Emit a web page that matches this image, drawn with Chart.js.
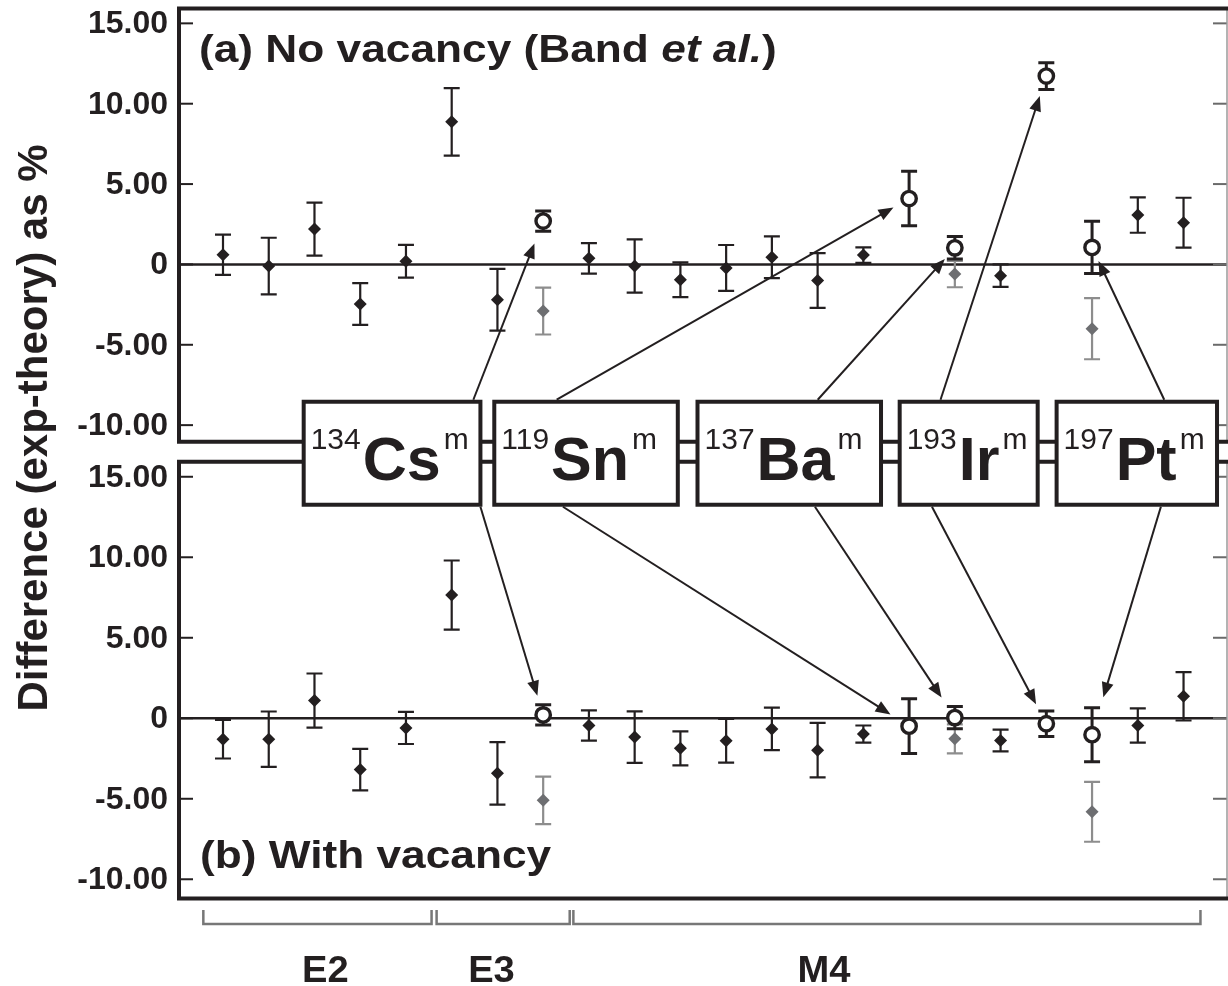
<!DOCTYPE html>
<html>
<head>
<meta charset="utf-8">
<title>Difference (exp-theory) as %</title>
<script src="https://cdn.jsdelivr.net/npm/chart.js@4.4.0/dist/chart.umd.min.js"></script>
<style>
  html, body { margin: 0; padding: 0; background: #fff; }
  #wrap { width: 1228px; height: 986px; }
</style>
</head>
<body>
<div id="wrap"><canvas id="chart" width="1228" height="986"></canvas></div>
<script>
// Transitions along the x axis (index 0..21), grouped by multipolarity
const groupNames = ['E2', 'E3', 'M4'];
const groupFirst = [0, 5, 8];
const groupLast = [4, 7, 21];

// Ordinary transitions (black diamonds)
const blackIndex = [0, 1, 2, 3, 4, 5, 6, 8, 9, 10, 11, 12, 13, 14, 17, 20, 21];
const noVac = [0.6, -0.1, 2.2, -2.46, 0.2, 8.87, -2.2, 0.38, -0.1, -0.95, -0.22, 0.45, -1.0, 0.58, -0.7, 3.07, 2.6];
const noVacErr = [1.25, 1.76, 1.65, 1.3, 1.02, 2.1, 1.92, 0.95, 1.66, 1.08, 1.43, 1.3, 1.7, 0.48, 0.7, 1.1, 1.55];
const withVac = [-1.3, -1.3, 1.1, -3.19, -0.6, 7.65, -3.42, -0.45, -1.17, -1.87, -1.4, -0.66, -1.98, -0.98, -1.38, -0.45, 1.36];
const withVacErr = [1.2, 1.72, 1.68, 1.29, 1.0, 2.15, 1.94, 0.94, 1.6, 1.06, 1.36, 1.32, 1.69, 0.53, 0.68, 1.06, 1.5];

// Isomers (open circles)
const isotopes = ['Cs', 'Sn', 'Ba', 'Ir', 'Pt'];
const massNumbers = ['134', '119', '137', '193', '197'];
const isomerIndex = [7, 15, 16, 18, 19];
const noVacIsomer = [2.7, 4.1, 1.03, 11.72, 1.06];
const noVacIsomerErr = [0.63, 1.7, 0.7, 0.83, 1.63];
const withVacIsomer = [0.21, -0.49, 0.04, -0.34, -1.02];
const withVacIsomerErr = [0.63, 1.7, 0.69, 0.79, 1.68];

// Grey diamonds
const greyIndex = [7, 16, 19];
const noVacGrey = [-2.9, -0.6, -4.0];
const noVacGreyErr = [1.46, 0.82, 1.9];
const withVacGrey = [-5.1, -1.28, -5.81];
const withVacGreyErr = [1.48, 0.9, 1.86];

// y axis ticks (same for both panels)
const yTicks = [-10, -5, 0, 5, 10, 15];
const yTickLabels = ['-10.00', '-5.00', '0', '5.00', '10.00', '15.00'];

// ---- layout (x in transition-index units, y in panel units) ----
const INK = '#231f20';
const GREY = '#6d6e71';
const GREY_BAR = '#8d8d8d';
const FONT = "'Liberation Sans', Arial, Helvetica, sans-serif";
const CAP = 8;
const panelA = { min: -11.03, max: 15.92 };
const panelB = { min: -11.2, max: 15.93 };
const boxLeft = [1.764, 5.931, 10.374, 14.794, 18.225];
const boxRight = [5.628, 9.943, 14.386, 17.811, 21.732];
const arrowFromA = [0.96, 0.34, 0.655, 0.296, 0.671];
const arrowStopA = [24, 18, 15, 21, 15];
const arrowFromB = [1.0, 0.374, 0.64, 0.234, 0.65];
const arrowStopB = [20, 22, 24, 22, 39];
const bracketFrom = [-0.43, 4.67, 7.66];
const bracketTo = [4.56, 7.58, 21.37];
const groupLabelAt = [2.24, 5.87, 13.14];

const pts = (idx, vals) => idx.map((x, i) => ({ x: x, y: vals[i] }));

function drawStretched(ctx, parts, x, y, sx) {
  let cx = x;
  parts.forEach(p => {
    ctx.font = p.font;
    ctx.save();
    ctx.translate(cx, y);
    ctx.scale(sx, 1);
    ctx.fillText(p.text, 0, 0);
    ctx.restore();
    cx += ctx.measureText(p.text).width * sx;
  });
}

function drawArrow(ctx, x1, y1, x2, y2, stop) {
  const dx = x2 - x1, dy = y2 - y1;
  const len = Math.hypot(dx, dy);
  const ux = dx / len, uy = dy / len;
  const tx = x2 - ux * stop, ty = y2 - uy * stop;
  const head = 15, half = 6;
  ctx.beginPath();
  ctx.moveTo(x1, y1);
  ctx.lineTo(tx - ux * head * 0.8, ty - uy * head * 0.8);
  ctx.stroke();
  ctx.beginPath();
  ctx.moveTo(tx, ty);
  ctx.lineTo(tx - ux * head - uy * half, ty - uy * head + ux * half);
  ctx.lineTo(tx - ux * head + uy * half, ty - uy * head - ux * half);
  ctx.closePath();
  ctx.fill();
}

function drawFrames(chart) {
  const ctx = chart.ctx, area = chart.chartArea;
  const L = area.left + 2, R = area.right - 1;
  [['ya', panelA], ['yb', panelB]].forEach(([id, p]) => {
    const ys = chart.scales[id];
    const top = ys.getPixelForValue(p.max), bot = ys.getPixelForValue(p.min);
    ctx.save();
    ctx.lineCap = 'butt';
    // zero line
    ctx.strokeStyle = INK;
    ctx.lineWidth = 2.5;
    const y0 = ys.getPixelForValue(0);
    ctx.beginPath(); ctx.moveTo(L, y0); ctx.lineTo(R, y0); ctx.stroke();
    // ticks and labels
    ctx.font = 'bold 32px ' + FONT;
    ctx.textAlign = 'right';
    ctx.textBaseline = 'middle';
    ctx.fillStyle = INK;
    yTicks.forEach((t, k) => {
      const y = ys.getPixelForValue(t);
      ctx.lineWidth = 2;
      ctx.strokeStyle = INK;
      ctx.beginPath(); ctx.moveTo(L, y); ctx.lineTo(L + 14, y); ctx.stroke();
      ctx.strokeStyle = '#6a6a6a';
      ctx.beginPath(); ctx.moveTo(R - 14, y); ctx.lineTo(R, y); ctx.stroke();
      ctx.fillText(yTickLabels[k], area.left - 9, y + 1);
    });
    // right border (thin) then top / left / bottom (thick)
    ctx.strokeStyle = '#9a9a9a';
    ctx.lineWidth = 1.5;
    ctx.beginPath(); ctx.moveTo(R, top); ctx.lineTo(R, bot); ctx.stroke();
    ctx.strokeStyle = INK;
    ctx.lineWidth = 4;
    ctx.lineJoin = 'miter';
    ctx.beginPath();
    ctx.moveTo(area.right, top); ctx.lineTo(L, top); ctx.lineTo(L, bot); ctx.lineTo(area.right, bot);
    ctx.stroke();
    ctx.restore();
  });
}

function drawErrorBars(chart) {
  const ctx = chart.ctx;
  chart.data.datasets.forEach((ds, di) => {
    const meta = chart.getDatasetMeta(di);
    const ys = chart.scales[ds.yAxisID];
    ctx.save();
    ctx.strokeStyle = ds.barColor;
    ctx.lineWidth = ds.barWidth;
    meta.data.forEach((pt, i) => {
      const v = ds.data[i].y, e = ds.err[i];
      const top = ys.getPixelForValue(v + e), bot = ys.getPixelForValue(v - e);
      ctx.beginPath();
      ctx.moveTo(pt.x, top); ctx.lineTo(pt.x, bot);
      ctx.moveTo(pt.x - CAP, top); ctx.lineTo(pt.x + CAP, top);
      ctx.moveTo(pt.x - CAP, bot); ctx.lineTo(pt.x + CAP, bot);
      ctx.stroke();
    });
    ctx.restore();
  });
}

function drawAnnotations(chart) {
  const ctx = chart.ctx, area = chart.chartArea;
  const xs = chart.scales.x, ya = chart.scales.ya, yb = chart.scales.yb;
  const gapMid = (ya.getPixelForValue(panelA.min) + yb.getPixelForValue(panelB.max)) / 2;
  const y1 = gapMid - 50, y2 = gapMid + 53;
  ctx.save();
  ctx.fillStyle = INK;
  ctx.strokeStyle = INK;

  // arrows from the isotope boxes to the isomer points
  ctx.lineWidth = 2;
  isotopes.forEach((el, k) => {
    const x1 = xs.getPixelForValue(boxLeft[k]), x2 = xs.getPixelForValue(boxRight[k]);
    const px = xs.getPixelForValue(isomerIndex[k]);
    drawArrow(ctx, x1 + arrowFromA[k] * (x2 - x1), y1 - 2, px, ya.getPixelForValue(noVacIsomer[k]), arrowStopA[k]);
    drawArrow(ctx, x1 + arrowFromB[k] * (x2 - x1), y2 + 2, px, yb.getPixelForValue(withVacIsomer[k]), arrowStopB[k]);
  });

  // isotope boxes
  isotopes.forEach((el, k) => {
    const x1 = xs.getPixelForValue(boxLeft[k]), x2 = xs.getPixelForValue(boxRight[k]);
    ctx.fillStyle = '#fff';
    ctx.fillRect(x1, y1, x2 - x1, y2 - y1);
    ctx.lineWidth = 4;
    ctx.strokeRect(x1, y1, x2 - x1, y2 - y1);
    ctx.fillStyle = INK;
    ctx.textAlign = 'left';
    ctx.textBaseline = 'alphabetic';
    let cx = x1 + 7;
    ctx.font = '30px ' + FONT;
    ctx.fillText(massNumbers[k], cx, y1 + 47.5);
    cx += ctx.measureText(massNumbers[k]).width + 2;
    ctx.font = 'bold 61px ' + FONT;
    ctx.fillText(el, cx, y1 + 78.5);
    cx += ctx.measureText(el).width + 3;
    ctx.font = '30px ' + FONT;
    ctx.fillText('m', cx, y1 + 47.5);
  });

  // panel captions
  ctx.fillStyle = INK;
  ctx.textAlign = 'left';
  ctx.textBaseline = 'alphabetic';
  const bold = 'bold 39.5px ' + FONT;
  const boldIt = 'italic bold 39.5px ' + FONT;
  drawStretched(ctx, [
    { text: '(a) No vacancy (Band ', font: bold },
    { text: 'et al.', font: boldIt },
    { text: ')', font: bold }
  ], area.left + 22, ya.getPixelForValue(panelA.max) + 53, 1.12);
  drawStretched(ctx, [{ text: '(b) With vacancy', font: bold }],
    area.left + 23, yb.getPixelForValue(panelB.min) - 31, 1.12);

  // multipolarity brackets
  const yLine = area.bottom + 23, yEnd = area.bottom + 9;
  groupNames.forEach((g, k) => {
    const xa = xs.getPixelForValue(bracketFrom[k]), xb = xs.getPixelForValue(bracketTo[k]);
    ctx.strokeStyle = '#777';
    ctx.lineWidth = 2.5;
    ctx.beginPath();
    ctx.moveTo(xa, yEnd); ctx.lineTo(xa, yLine); ctx.lineTo(xb, yLine); ctx.lineTo(xb, yEnd);
    ctx.stroke();
    ctx.font = 'bold 36px ' + FONT;
    const w = ctx.measureText(g).width * 1.06;
    drawStretched(ctx, [{ text: g, font: 'bold 36px ' + FONT }],
      xs.getPixelForValue(groupLabelAt[k]) - w / 2, area.bottom + 81, 1.06);
  });

  // y axis title
  ctx.translate(47, 428);
  ctx.rotate(-Math.PI / 2);
  ctx.textAlign = 'center';
  ctx.font = 'bold 42px ' + FONT;
  ctx.fillText('Difference (exp-theory) as %', 0, 0);
  ctx.restore();
}

const figurePlugin = {
  id: 'figure',
  beforeDatasetsDraw(chart) {
    drawFrames(chart);
    drawErrorBars(chart);
  },
  afterDatasetsDraw(chart) {
    drawAnnotations(chart);
  }
};

const diamond = (data, err, axis, color, bar) => ({
  data: data, err: err, yAxisID: axis,
  pointStyle: 'rectRot', pointRadius: 6.5, borderWidth: 0,
  backgroundColor: color, borderColor: color,
  barColor: bar, barWidth: 2.2
});
const circle = (data, err, axis) => ({
  data: data, err: err, yAxisID: axis,
  pointStyle: 'circle', pointRadius: 7.2, borderWidth: 3.4,
  backgroundColor: '#fff', borderColor: INK,
  barColor: INK, barWidth: 3
});

new Chart(document.getElementById('chart'), {
  type: 'scatter',
  data: {
    datasets: [
      diamond(pts(blackIndex, noVac), noVacErr, 'ya', INK, INK),
      diamond(pts(greyIndex, noVacGrey), noVacGreyErr, 'ya', GREY, GREY_BAR),
      circle(pts(isomerIndex, noVacIsomer), noVacIsomerErr, 'ya'),
      diamond(pts(blackIndex, withVac), withVacErr, 'yb', INK, INK),
      diamond(pts(greyIndex, withVacGrey), withVacGreyErr, 'yb', GREY, GREY_BAR),
      circle(pts(isomerIndex, withVacIsomer), withVacIsomerErr, 'yb')
    ]
  },
  options: {
    responsive: false,
    animation: false,
    devicePixelRatio: 1,
    events: [],
    layout: { autoPadding: false, padding: { left: 177, right: 0, top: 6, bottom: 85 } },
    plugins: { legend: { display: false }, tooltip: { enabled: false } },
    scales: {
      x: { type: 'linear', display: false, min: -1.0057, max: 21.972 },
      ya: { type: 'linear', position: 'left', display: false, min: -39.61, max: 16.08 },
      yb: { type: 'linear', position: 'left', display: false, min: -11.35, max: 44.24 }
    }
  },
  plugins: [figurePlugin]
});
</script>
</body>
</html>
